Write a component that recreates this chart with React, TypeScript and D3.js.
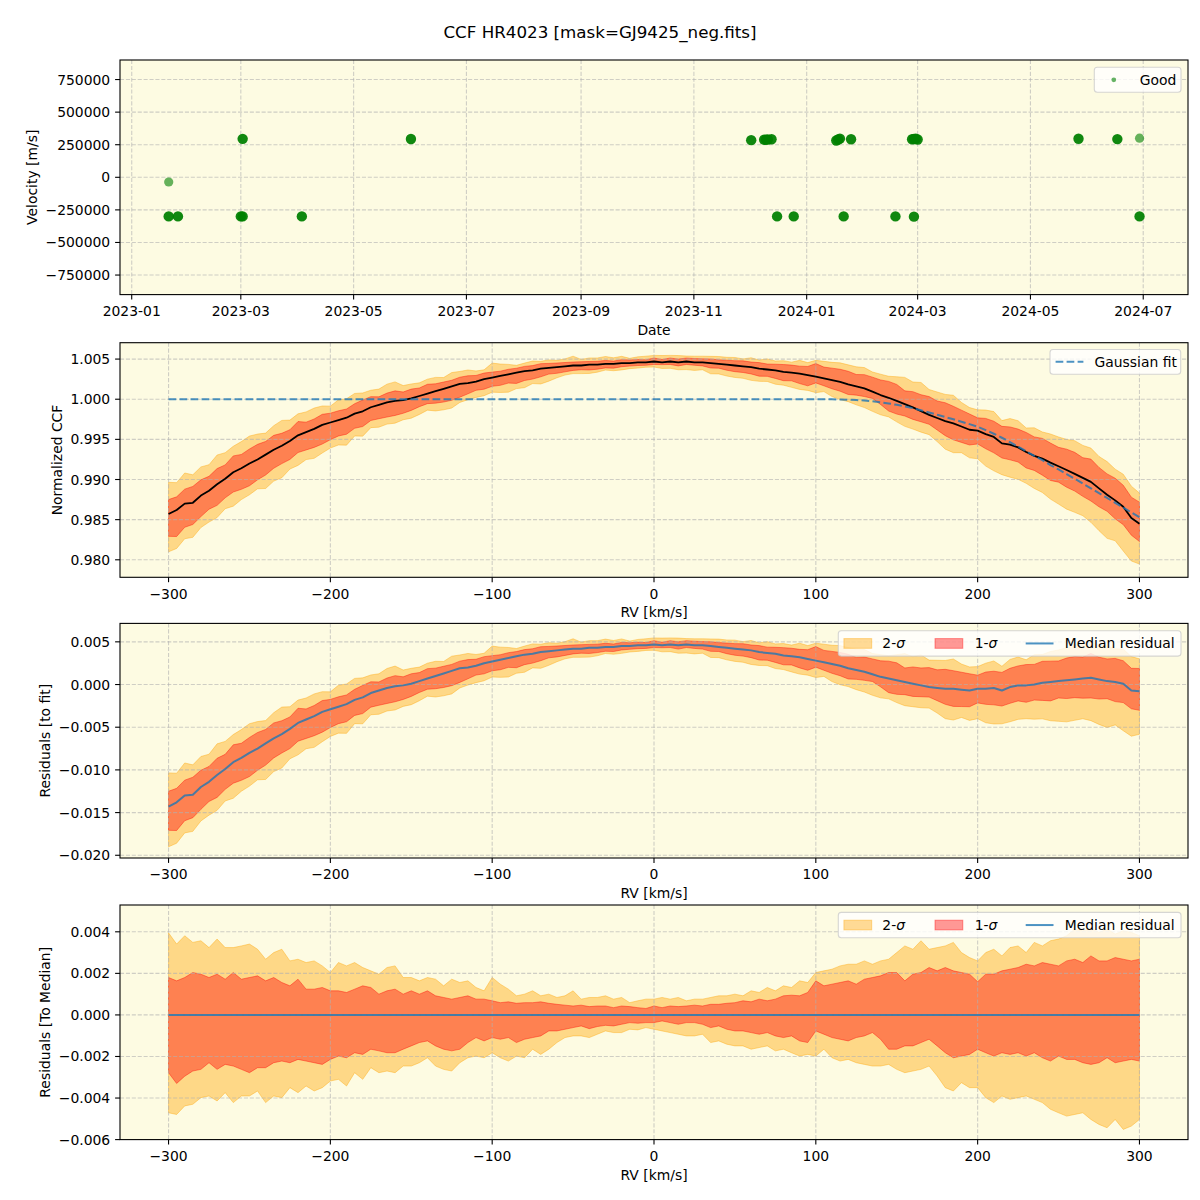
import * as d3 from 'd3'
import type { ReactNode } from 'react'

const FONT = '"DejaVu Sans", Verdana, sans-serif'
const FS = 13.9
const AX_BG = '#fdfbe2'
const ORANGE = '#ffa500'
const RED = '#ff0000'
const BLUE = '#1f77b4'

const LEFT = 120
const RIGHT = 1188
const PANEL_TOPS = [60, 342.7, 623.4, 905]
const PANEL_H = 234.6

// ---- panel 1: velocities per observation night (count = overlapping exposures) ----
const obsDate = ['2023-01-21', '2023-01-21', '2023-01-26', '2023-03-01', '2023-03-02', '2023-03-02', '2023-04-03',
  '2023-06-01', '2023-12-02', '2023-12-09', '2023-12-10', '2023-12-11', '2023-12-13', '2023-12-16', '2023-12-25',
  '2024-01-17', '2024-01-18', '2024-01-19', '2024-01-21', '2024-01-25', '2024-02-18', '2024-02-27', '2024-02-28',
  '2024-02-28', '2024-02-29', '2024-03-01', '2024-05-27', '2024-06-17', '2024-06-29', '2024-06-29']
const obsVel = [-36000, -300000, -300000, -300000, 295000, -300000, -300000,
  294000, 285000, 288000, 289000, 290000, 292000, -300000, -300000,
  282000, 290000, 297000, -300000, 292000, -300000, 292000, 294000,
  -302000, 296000, 290000, 296000, 293000, 300000, -300000]
const obsCount = [1, 3, 3, 3, 3, 3, 3, 3, 3, 3, 3, 3, 3, 3, 3, 3, 3, 3, 3, 3, 3, 3, 3, 3, 3, 3, 3, 3, 1, 3]

// ---- panels 2-4: CCF on the RV grid [km/s] ----
const rv = [
  -300, -295, -290, -285, -280, -275, -270, -265, -260, -255, -250, -245, -240, -235, -230, -225, -220, -215, -210, -205,
  -200, -195, -190, -185, -180, -175, -170, -165, -160, -155, -150, -145, -140, -135, -130, -125, -120, -115, -110, -105,
  -100, -95, -90, -85, -80, -75, -70, -65, -60, -55, -50, -45, -40, -35, -30, -25, -20, -15, -10, -5,
  0, 5, 10, 15, 20, 25, 30, 35, 40, 45, 50, 55, 60, 65, 70, 75, 80, 85, 90, 95,
  100, 105, 110, 115, 120, 125, 130, 135, 140, 145, 150, 155, 160, 165, 170, 175, 180, 185, 190, 195,
  200, 205, 210, 215, 220, 225, 230, 235, 240, 245, 250, 255, 260, 265, 270, 275, 280, 285, 290, 295, 300]

// Gaussian fit of the CCF
const gaussFit = [
  1, 1, 1, 1, 1, 1, 1, 1, 1, 1, 1, 1, 1, 1, 1, 1, 1, 1, 1, 1,
  1, 1, 1, 1, 1, 1, 1, 1, 1, 1, 1, 1, 1, 1, 1, 1, 1, 1, 1, 1,
  1, 1, 1, 1, 1, 1, 1, 1, 1, 1, 1, 1, 1, 1, 1, 1, 1, 1, 1, 1,
  1, 1, 1, 1, 1, 1, 1, 1, 1, 1, 1, 1, 1, 1, 1, 1, 1, 1, 1, 1,
  1, 1, 0.99999, 0.99997, 0.99994, 0.9999, 0.99984, 0.99975, 0.99962, 0.99948, 0.9993, 0.9991, 0.99888, 0.99862, 0.99835, 0.99806, 0.99778, 0.9975, 0.9972, 0.9969,
  0.99658, 0.99615, 0.9957, 0.9952, 0.99465, 0.9941, 0.99352, 0.99295, 0.9924, 0.9918, 0.99125, 0.99068, 0.9901, 0.9895, 0.9889, 0.9883, 0.9877, 0.9871, 0.9865, 0.9859, 0.9853]

// median residual to the fit, units of 1e-3
const residK = [
  -14.3, -13.8, -13.0, -12.9, -12.0, -11.4, -10.6, -9.9, -9.1, -8.6, -8.0, -7.5, -6.9, -6.3, -5.8, -5.2, -4.5, -4.1, -3.7, -3.2,
  -2.9, -2.6, -2.3, -1.8, -1.5, -1.0, -0.7, -0.4, -0.2, -0.1, 0.1, 0.4, 0.7, 1.0, 1.3, 1.6, 1.9, 2.0, 2.2, 2.5,
  2.7, 2.9, 3.1, 3.3, 3.5, 3.6, 3.8, 3.9, 4.0, 4.1, 4.2, 4.2, 4.3, 4.3, 4.4, 4.4, 4.5, 4.5, 4.6, 4.6,
  4.7, 4.6, 4.7, 4.6, 4.7, 4.6, 4.6, 4.5, 4.4, 4.3, 4.2, 4.1, 4.0, 3.8, 3.7, 3.6, 3.4, 3.3, 3.2, 3.0,
  2.8, 2.6, 2.4, 2.2, 1.9, 1.7, 1.5, 1.2, 0.9, 0.7, 0.5, 0.3, 0.1, -0.1, -0.3, -0.4, -0.5, -0.5, -0.6, -0.7,
  -0.5, -0.5, -0.4, -0.7, -0.3, -0.1, -0.1, 0.0, 0.2, 0.3, 0.4, 0.5, 0.6, 0.7, 0.8, 0.6, 0.4, 0.3, 0.1, -0.7, -0.8]

// percentile bands relative to the median, units of 1e-3
const sig2HiK = [
  3.95, 3.41, 3.81, 3.49, 3.57, 3.24, 3.65, 3.24, 3.24, 3.32, 3.41, 3.16, 2.68, 3.00, 3.16, 2.60, 2.68, 2.52, 2.60, 2.36,
  2.04, 2.52, 2.36, 2.52, 2.28, 2.12, 1.96, 2.28, 2.36, 1.80, 1.80, 1.64, 1.80, 1.72, 1.40, 1.72, 1.56, 1.64, 1.32, 1.16,
  1.80, 1.48, 1.24, 0.92, 1.00, 1.16, 0.92, 1.00, 0.84, 0.92, 1.16, 0.76, 0.84, 0.84, 0.92, 0.76, 0.84, 0.59, 0.68, 0.76,
  0.76, 0.84, 0.76, 0.84, 0.68, 0.76, 0.76, 0.84, 0.92, 0.92, 1.00, 0.92, 1.16, 1.08, 1.32, 1.16, 1.40, 1.32, 1.64, 1.56,
  2.04, 2.12, 2.20, 2.36, 2.44, 2.44, 2.60, 2.44, 2.60, 2.68, 3.00, 3.32, 3.16, 3.57, 3.16, 3.24, 3.32, 3.49, 3.00, 2.76,
  2.60, 3.00, 3.16, 2.84, 3.24, 3.32, 3.00, 3.49, 3.32, 3.57, 3.65, 3.81, 4.13, 4.05, 4.21, 3.97, 4.13, 3.89, 4.05, 3.97, 3.81]
const sig1HiK = [
  1.80, 1.64, 1.80, 2.04, 1.96, 1.80, 1.96, 1.72, 2.04, 1.72, 1.80, 1.88, 1.64, 1.80, 1.56, 1.40, 1.72, 1.24, 1.24, 1.32,
  1.16, 1.16, 1.08, 1.24, 1.40, 1.32, 1.00, 1.16, 1.24, 1.00, 1.16, 1.00, 1.16, 0.92, 0.84, 0.76, 0.84, 0.92, 0.76, 0.76,
  0.68, 0.59, 0.63, 0.56, 0.59, 0.59, 0.63, 0.56, 0.51, 0.47, 0.43, 0.47, 0.40, 0.43, 0.43, 0.35, 0.43, 0.40, 0.35, 0.31,
  0.43, 0.35, 0.43, 0.40, 0.43, 0.47, 0.43, 0.51, 0.51, 0.56, 0.59, 0.68, 0.63, 0.76, 0.68, 0.76, 0.92, 0.95, 0.92, 1.08,
  1.64, 1.40, 1.48, 1.56, 1.64, 1.48, 1.72, 1.80, 1.88, 2.04, 2.04, 1.64, 1.96, 2.04, 2.28, 2.12, 2.28, 2.12, 2.04, 1.96,
  1.60, 1.96, 1.96, 2.12, 2.20, 2.28, 2.44, 2.36, 2.52, 2.44, 2.36, 2.60, 2.68, 2.52, 2.84, 2.60, 2.60, 2.76, 2.68, 2.60, 2.68]
const sig1LoK = [
  -2.78, -3.30, -2.95, -2.70, -2.62, -2.30, -2.62, -2.38, -2.46, -2.62, -2.78, -2.54, -2.54, -2.30, -2.22, -2.30, -2.14, -2.22, -2.30, -2.38,
  -2.14, -1.98, -2.06, -1.82, -1.90, -1.65, -1.73, -1.82, -1.82, -1.65, -1.49, -1.33, -1.25, -1.49, -1.65, -1.73, -1.65, -1.33, -1.09, -1.25,
  -1.09, -1.17, -1.09, -1.33, -1.17, -1.09, -1.01, -0.77, -0.77, -0.69, -0.61, -0.53, -0.66, -0.56, -0.50, -0.53, -0.45, -0.37, -0.40, -0.37,
  -0.37, -0.29, -0.37, -0.45, -0.37, -0.37, -0.45, -0.61, -0.53, -0.69, -0.77, -0.77, -0.85, -0.93, -0.85, -1.01, -1.09, -1.01, -1.25, -1.33,
  -0.77, -0.93, -1.09, -1.17, -1.25, -1.09, -1.01, -0.85, -1.17, -1.65, -1.65, -1.49, -1.49, -1.33, -1.17, -1.49, -1.82, -2.06, -1.98, -1.90,
  -1.65, -1.82, -1.98, -1.82, -1.90, -1.82, -1.98, -1.82, -2.06, -2.22, -1.98, -2.14, -2.14, -2.30, -2.38, -2.30, -2.06, -2.30, -2.22, -2.14, -2.22]
const sig2LoK = [
  -4.71, -4.79, -4.38, -4.30, -3.98, -3.90, -4.14, -3.74, -4.22, -3.90, -3.90, -3.66, -4.22, -3.90, -3.98, -3.50, -3.74, -3.42, -3.66, -3.50,
  -3.18, -3.10, -3.42, -2.78, -3.10, -2.54, -2.78, -2.70, -2.78, -2.46, -2.46, -2.30, -2.06, -2.46, -2.62, -2.70, -2.30, -2.06, -1.98, -2.06,
  -1.82, -2.06, -2.22, -1.98, -2.06, -1.65, -1.90, -1.65, -1.33, -1.09, -1.01, -1.01, -1.09, -0.93, -0.77, -0.85, -0.85, -0.69, -0.72, -0.61,
  -0.69, -0.77, -0.85, -0.93, -1.01, -1.01, -0.93, -1.33, -1.25, -1.41, -1.49, -1.49, -1.65, -1.57, -1.49, -1.73, -1.65, -1.82, -1.98, -1.90,
  -1.98, -1.65, -2.06, -2.22, -2.14, -2.30, -2.38, -2.46, -2.46, -2.38, -2.62, -2.78, -2.70, -2.62, -2.46, -2.94, -3.50, -3.66, -3.26, -3.50,
  -3.50, -3.98, -4.22, -3.90, -4.06, -3.98, -3.90, -4.06, -4.22, -4.54, -4.71, -4.87, -4.79, -4.71, -5.03, -5.27, -5.43, -5.03, -5.51, -5.35, -5.03]

const velTicks = [-750000, -500000, -250000, 0, 250000, 500000, 750000]
const ccfTicks = [0.98, 0.985, 0.99, 0.995, 1.0, 1.005]
const fitResTicks = [-0.02, -0.015, -0.01, -0.005, 0, 0.005]
const medResTicks = [-0.006, -0.004, -0.002, 0, 0.002, 0.004]
const rvTicks = [-300, -200, -100, 0, 100, 200, 300]

// derived series
const resid = residK.map(v => v / 1000)
const ccfMedian = gaussFit.map((f, i) => f + resid[i])
const s1lo = sig1LoK.map(v => v / 1000)
const s1hi = sig1HiK.map(v => v / 1000)
const s2lo = sig2LoK.map(v => v / 1000)
const s2hi = sig2HiK.map(v => v / 1000)

const intFmt = d3.format('d')
const f3 = d3.format('.3f')
const monthFmt = d3.utcFormat('%Y-%m')

// rough DejaVu Sans advance widths for tick labels
function textW(s: string) {
  let w = 0
  for (const c of s) w += c === '.' ? 0.318 : c === '\u2212' ? 0.838 : c === '-' ? 0.361 : 0.636
  return w * FS
}

interface AxesProps {
  id: string
  top: number
  x: (v: any) => number
  xTicks: { v: any; label: string }[]
  xlabel: string
  y: d3.ScaleLinear<number, number>
  yTicks: number[]
  yFmt: (v: number) => string
  ylabel: string
  fills?: ReactNode
  marks?: ReactNode
  legend?: ReactNode
}

function Axes({ id, top, x, xTicks, xlabel, y, yTicks, yFmt, ylabel, fills, marks, legend }: AxesProps) {
  const bottom = top + PANEL_H
  const yLabels = yTicks.map(yFmt)
  const maxW = d3.max(yLabels, textW) ?? 0
  const ylabelX = LEFT - 9.8 - maxW - 5.6 - 3.3
  return (
    <g>
      <defs>
        <clipPath id={id}>
          <rect x={LEFT} y={top} width={RIGHT - LEFT} height={PANEL_H} />
        </clipPath>
      </defs>
      <rect x={LEFT} y={top} width={RIGHT - LEFT} height={PANEL_H} fill={AX_BG} />
      <g clipPath={`url(#${id})`}>
        {fills}
        <g stroke="#b0b0b0" strokeOpacity={0.6} strokeWidth={1.1} strokeDasharray="4.1,1.8">
          {xTicks.map((t, i) => (
            <line key={`gx${i}`} x1={x(t.v)} x2={x(t.v)} y1={top} y2={bottom} />
          ))}
          {yTicks.map((t, i) => (
            <line key={`gy${i}`} x1={LEFT} x2={RIGHT} y1={y(t)} y2={y(t)} />
          ))}
        </g>
        {marks}
      </g>
      <rect x={LEFT} y={top} width={RIGHT - LEFT} height={PANEL_H} fill="none" stroke="black" strokeWidth={1.1} />

      {/* x axis */}
      {xTicks.map((t, i) => (
        <g key={`xt${i}`}>
          <line x1={x(t.v)} x2={x(t.v)} y1={bottom} y2={bottom + 4.9} stroke="black" strokeWidth={1.1} />
          <text x={x(t.v)} y={bottom + 21.3} textAnchor="middle" fontSize={FS}>{t.label}</text>
        </g>
      ))}
      <text x={(LEFT + RIGHT) / 2} y={bottom + 40} textAnchor="middle" fontSize={FS}>{xlabel}</text>

      {/* y axis */}
      {yTicks.map((t, i) => (
        <g key={`yt${i}`}>
          <line x1={LEFT - 4.9} x2={LEFT} y1={y(t)} y2={y(t)} stroke="black" strokeWidth={1.1} />
          <text x={LEFT - 9.8} y={y(t)} dy="0.36em" textAnchor="end" fontSize={FS}>{yLabels[i]}</text>
        </g>
      ))}
      <text
        transform={`translate(${ylabelX},${top + PANEL_H / 2}) rotate(-90)`}
        textAnchor="middle"
        fontSize={FS}
      >
        {ylabel}
      </text>
      {legend}
    </g>
  )
}

function LegendFrame({ x, y, w, h }: { x: number; y: number; w: number; h: number }) {
  return (
    <rect x={x} y={y} width={w} height={h} rx={3} fill="white" fillOpacity={0.8}
      stroke="#cccccc" strokeOpacity={0.8} strokeWidth={1.1} />
  )
}

function Band({ x, y, lo, hi, color }: {
  x: d3.ScaleLinear<number, number>; y: d3.ScaleLinear<number, number>; lo: number[]; hi: number[]; color: string
}) {
  const gen = d3.area<number>()
    .x(d => x(d))
    .y0((_, i) => y(lo[i]))
    .y1((_, i) => y(hi[i]))
  return <path d={gen(rv) ?? ''} fill={color} fillOpacity={0.4} stroke={color} strokeOpacity={0.4} strokeWidth={1} />
}

function SigmaLegend({ top }: { top: number }) {
  const w = 342.7, h = 25.3
  const lx = RIGHT - 7 - w
  const ly = top + 7.4
  const cy = ly + h / 2
  return (
    <g>
      <LegendFrame x={lx} y={ly} w={w} h={h} />
      <rect x={lx + 5.6} y={cy - 4.85} width={27.8} height={9.7} fill={ORANGE} fillOpacity={0.4} stroke={ORANGE} strokeOpacity={0.4} />
      <text x={lx + 44} y={cy} dy="0.36em" fontSize={FS}>2-<tspan fontStyle="italic">σ</tspan></text>
      <rect x={lx + 96.7} y={cy - 4.85} width={27.8} height={9.7} fill={RED} fillOpacity={0.4} stroke={RED} strokeOpacity={0.4} />
      <text x={lx + 136.4} y={cy} dy="0.36em" fontSize={FS}>1-<tspan fontStyle="italic">σ</tspan></text>
      <line x1={lx + 187.4} x2={lx + 215.2} y1={cy} y2={cy} stroke={BLUE} strokeOpacity={0.8} strokeWidth={2} />
      <text x={lx + 226.4} y={cy} dy="0.36em" fontSize={FS}>Median residual</text>
    </g>
  )
}

export default function App() {
  const parse = d3.utcParse('%Y-%m-%d')
  const dates = obsDate.map(d => parse(d) as Date)

  // panel 1 scales
  const xt = d3.scaleUtc([new Date(Date.UTC(2022, 11, 25, 16)), new Date(Date.UTC(2024, 6, 25, 5))], [LEFT, RIGHT])
  const yv = d3.scaleLinear([-900000, 900000], [PANEL_TOPS[0] + PANEL_H, PANEL_TOPS[0]])
  const dateTicks = xt.ticks(d3.utcMonth.every(2) as d3.TimeInterval).map(d => ({ v: d, label: monthFmt(d) }))

  // rv panels
  const xr = d3.scaleLinear([-330, 330], [LEFT, RIGHT])
  const rvTickObjs = rvTicks.map(v => ({ v, label: intFmt(v) }))
  const y2 = d3.scaleLinear([0.97782, 1.00704], [PANEL_TOPS[1] + PANEL_H, PANEL_TOPS[1]])
  const y3 = d3.scaleLinear([-0.02032, 0.00716], [PANEL_TOPS[2] + PANEL_H, PANEL_TOPS[2]])
  const y4 = d3.scaleLinear([-0.006, 0.00529], [PANEL_TOPS[3] + PANEL_H, PANEL_TOPS[3]])

  const line = (y: d3.ScaleLinear<number, number>, vals: number[]) =>
    d3.line<number>().x(d => xr(d)).y((_, i) => y(vals[i]))(rv) ?? ''

  // panel 2 bands (absolute CCF)
  const c1lo = ccfMedian.map((m, i) => m + s1lo[i])
  const c1hi = ccfMedian.map((m, i) => m + s1hi[i])
  const c2lo = ccfMedian.map((m, i) => m + s2lo[i])
  const c2hi = ccfMedian.map((m, i) => m + s2hi[i])
  // panel 3 bands (relative to fit)
  const r1lo = resid.map((m, i) => m + s1lo[i])
  const r1hi = resid.map((m, i) => m + s1hi[i])
  const r2lo = resid.map((m, i) => m + s2lo[i])
  const r2hi = resid.map((m, i) => m + s2hi[i])
  // panel 4: median relative to itself
  const zero = resid.map(m => m - m)

  return (
    <svg width={1200} height={1200} style={{ position: 'absolute', left: 0, top: 0, background: 'white' }}
      fontFamily={FONT} fill="black">
      <rect width={1200} height={1200} fill="white" />
      <text x={600} y={37.5} textAnchor="middle" fontSize={16.7}>CCF HR4023 [mask=GJ9425_neg.fits]</text>

      {/* Panel 1: velocities */}
      <Axes
        id="p1" top={PANEL_TOPS[0]} x={xt} xTicks={dateTicks} xlabel="Date"
        y={yv} yTicks={velTicks} yFmt={intFmt} ylabel="Velocity [m/s]"
        marks={
          <g>
            {dates.map((d, i) => (
              <circle key={i} cx={xt(d)} cy={yv(obsVel[i])} r={obsCount[i] > 1 ? 5.2 : 4.6}
                fill="green" fillOpacity={1 - Math.pow(0.4, obsCount[i])} />
            ))}
          </g>
        }
        legend={
          <g>
            <LegendFrame x={RIGHT - 7 - 86.7} y={PANEL_TOPS[0] + 7.3} w={86.7} h={25} />
            <circle cx={RIGHT - 7 - 86.7 + 19.5} cy={PANEL_TOPS[0] + 7.3 + 12.5} r={2.4} fill="green" fillOpacity={0.6} />
            <text x={RIGHT - 7 - 86.7 + 45.5} y={PANEL_TOPS[0] + 7.3 + 12.5} dy="0.36em" fontSize={FS}>Good</text>
          </g>
        }
      />

      {/* Panel 2: normalized CCF */}
      <Axes
        id="p2" top={PANEL_TOPS[1]} x={xr} xTicks={rvTickObjs} xlabel="RV [km/s]"
        y={y2} yTicks={ccfTicks} yFmt={f3} ylabel="Normalized CCF"
        fills={
          <g>
            <Band x={xr} y={y2} lo={c2lo} hi={c2hi} color={ORANGE} />
            <Band x={xr} y={y2} lo={c1lo} hi={c1hi} color={RED} />
          </g>
        }
        marks={
          <g fill="none">
            <path d={line(y2, ccfMedian)} stroke="black" strokeWidth={1.8} strokeLinejoin="round" />
            <path d={line(y2, gaussFit)} stroke={BLUE} strokeOpacity={0.8} strokeWidth={2} strokeDasharray="7.7,3.3" />
          </g>
        }
        legend={
          <g>
            <LegendFrame x={RIGHT - 7.3 - 130.7} y={PANEL_TOPS[1] + 6.8} w={130.7} h={24.7} />
            <line x1={RIGHT - 7.3 - 130.7 + 5.6} x2={RIGHT - 7.3 - 130.7 + 33.4}
              y1={PANEL_TOPS[1] + 6.8 + 12.3} y2={PANEL_TOPS[1] + 6.8 + 12.3}
              stroke={BLUE} strokeOpacity={0.8} strokeWidth={2} strokeDasharray="7.7,3.3" />
            <text x={RIGHT - 7.3 - 130.7 + 44.5} y={PANEL_TOPS[1] + 6.8 + 12.3} dy="0.36em" fontSize={FS}>Gaussian fit</text>
          </g>
        }
      />

      {/* Panel 3: residuals to fit */}
      <Axes
        id="p3" top={PANEL_TOPS[2]} x={xr} xTicks={rvTickObjs} xlabel="RV [km/s]"
        y={y3} yTicks={fitResTicks} yFmt={f3} ylabel="Residuals [to fit]"
        fills={
          <g>
            <Band x={xr} y={y3} lo={r2lo} hi={r2hi} color={ORANGE} />
            <Band x={xr} y={y3} lo={r1lo} hi={r1hi} color={RED} />
          </g>
        }
        marks={<path d={line(y3, resid)} fill="none" stroke={BLUE} strokeOpacity={0.8} strokeWidth={2} strokeLinejoin="round" />}
        legend={<SigmaLegend top={PANEL_TOPS[2]} />}
      />

      {/* Panel 4: residuals to median */}
      <Axes
        id="p4" top={PANEL_TOPS[3]} x={xr} xTicks={rvTickObjs} xlabel="RV [km/s]"
        y={y4} yTicks={medResTicks} yFmt={f3} ylabel="Residuals [To Median]"
        fills={
          <g>
            <Band x={xr} y={y4} lo={s2lo} hi={s2hi} color={ORANGE} />
            <Band x={xr} y={y4} lo={s1lo} hi={s1hi} color={RED} />
          </g>
        }
        marks={<path d={line(y4, zero)} fill="none" stroke={BLUE} strokeOpacity={0.8} strokeWidth={2} />}
        legend={<SigmaLegend top={PANEL_TOPS[3]} />}
      />
    </svg>
  )
}
